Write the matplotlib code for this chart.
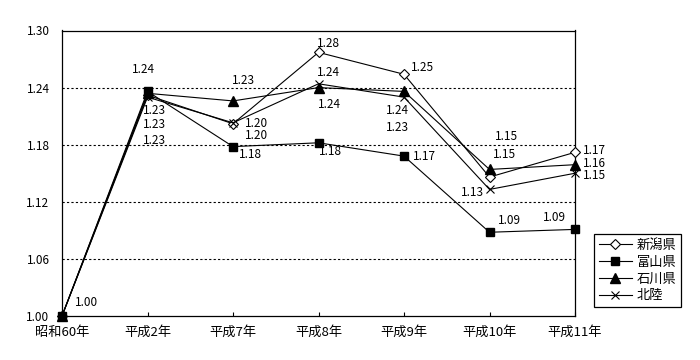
import matplotlib
matplotlib.use("Agg")
import matplotlib.pyplot as plt

plt.rcParams['font.family'] = ['Noto Sans CJK JP', 'DejaVu Sans']

categories = ["昭和60年", "平成2年", "平成7年", "平成8年", "平成9年", "平成10年", "平成11年"]
niigata = [1.00, 1.232, 1.202, 1.277, 1.254, 1.146, 1.172]
toyama = [1.00, 1.236, 1.178, 1.182, 1.168, 1.088, 1.091]
ishikawa = [1.00, 1.234, 1.226, 1.240, 1.236, 1.154, 1.159]
hokuriku = [1.00, 1.230, 1.203, 1.244, 1.230, 1.133, 1.150]
series_names = ["新潟県", "富山県", "石川県", "北陸"]
y_ticks = [1.00, 1.06, 1.12, 1.18, 1.24, 1.30]

# label offsets in pixels (dx, dy); None = no label
offsets = {
    "新潟県": [(13, 14), (-4.5, -15), (12, 0), (-1.5, 9), (7, 7), (3.5, 23), (8, 2)],
    "富山県": [None, (-15.5, 22), (6, -8), (0.5, -9), (9, 0), (8.5, 12), (-32, 12)],
    "石川県": [None, (-4.5, -47), (-1, 20), (-0.5, -17), (-18, -19), (5.5, 33), (8, 1)],
    "北陸": [None, (-4.5, -27), (12, -13), (-1.5, 11), (-18, -30), (-28.5, -3), (8, -2)],
}

fig = plt.figure(figsize=(7.0, 3.6), dpi=100)
ax = fig.add_axes([62/700, 1-316/360, (575-62)/700, (316-30.5)/360])

x = list(range(len(categories)))
styles = {
    "新潟県": dict(marker='D', markersize=5, markerfacecolor='white', markeredgecolor='black', markeredgewidth=0.8),
    "富山県": dict(marker='s', markersize=6, markerfacecolor='black', markeredgecolor='black'),
    "石川県": dict(marker='^', markersize=7, markerfacecolor='black', markeredgecolor='black'),
    "北陸": dict(marker='x', markersize=6, markeredgecolor='black', markeredgewidth=0.8),
}
data = {"新潟県": niigata, "富山県": toyama, "石川県": ishikawa, "北陸": hokuriku}

for name in series_names:
    vals = data[name]
    ax.plot(x, vals, color='black', linewidth=0.8, label=name, zorder=3, clip_on=False, **styles[name])
    for i, v in enumerate(vals):
        off = offsets[name][i]
        if off is None:
            continue
        ax.annotate(f"{v:.2f}", (i, v), xytext=off, textcoords='offset pixels',
                    ha='left', va='center', fontsize=8.5, zorder=4)

ax.set_xlim(0, len(categories) - 1)
ax.set_ylim(1.00, 1.30)
ax.set_yticks(y_ticks)
ax.set_yticklabels([f"{t:.2f}" for t in y_ticks], fontsize=8.5)
ax.set_xticks(x)
ax.set_xticklabels(categories, fontsize=9.5)
ax.tick_params(axis='y', length=0, pad=9)
ax.tick_params(axis='x', direction='in', length=3, width=0.8, pad=7)

for t in y_ticks[1:-1]:
    ax.axhline(t, color='black', linewidth=0.8, linestyle=(0, (2, 2)), zorder=1)

for s in ax.spines.values():
    s.set_linewidth(0.9)
    s.set_color('black')

leg = fig.legend(loc='upper left', bbox_to_anchor=(594/700, 1-234/360), fontsize=9.5,
                 frameon=True, fancybox=False, edgecolor='black', framealpha=1,
                 handlelength=2.5, handletextpad=0.4, labelspacing=0.3, borderpad=0.35,
                 borderaxespad=0)
leg.get_frame().set_linewidth(0.9)

fig.savefig("out.png", dpi=100)
